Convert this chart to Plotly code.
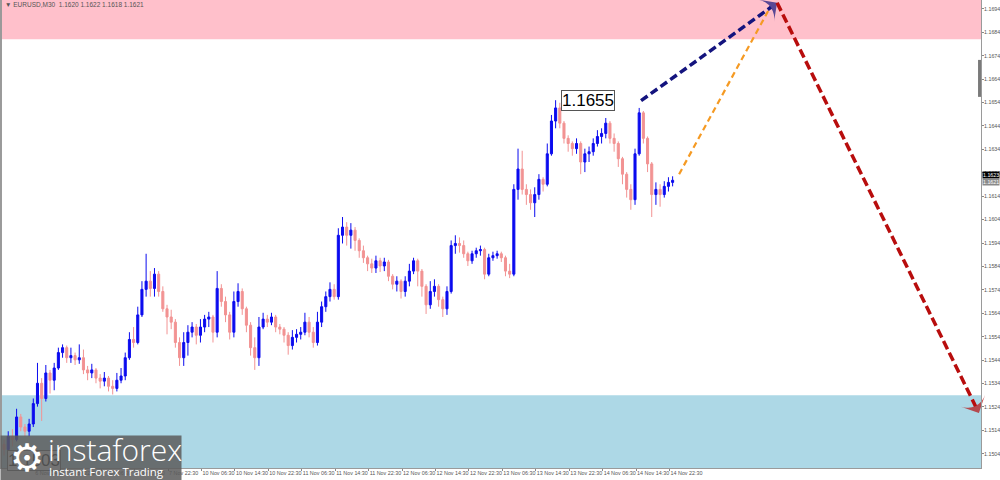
import numpy as np
import pandas as pd
import plotly.graph_objects as go

# ---------------- data (EURUSD; hourly bars) ----------------
session_ranges = [("2025-11-06 07:00", "2025-11-07 23:00"),
                  ("2025-11-10 00:00", "2025-11-14 23:00")]

first_open = 1.15080
closes = [
    1.15058, 1.15114, 1.15101, 1.15197, 1.15154, 1.15136, 1.15167, 1.15254, 1.15341, 1.15276,
    1.15385, 1.15354, 1.15406, 1.15472, 1.15493, 1.15450, 1.15459, 1.15441, 1.15450, 1.15398,
    1.15385, 1.15398, 1.15363, 1.15350, 1.15363, 1.15328, 1.15319, 1.15354, 1.15372, 1.15450,
    1.15528, 1.15515, 1.15633, 1.15742, 1.15777, 1.15746, 1.15807, 1.15733, 1.15659, 1.15624,
    1.15602, 1.15515, 1.15450, 1.15515, 1.15559, 1.15581, 1.15546, 1.15581, 1.15615, 1.15624,
    1.15559, 1.15746, 1.15690, 1.15633, 1.15559, 1.15690, 1.15733, 1.15659, 1.15589, 1.15493,
    1.15450, 1.15581, 1.15615, 1.15602, 1.15624, 1.15581, 1.15572, 1.15546, 1.15502, 1.15537,
    1.15550, 1.15559, 1.15602, 1.15559, 1.15515, 1.15602, 1.15668, 1.15711, 1.15742, 1.15711,
    1.15973, 1.16008, 1.15973, 1.15995, 1.15951, 1.15907, 1.15877, 1.15851, 1.15833, 1.15864,
    1.15842, 1.15859, 1.15798, 1.15764, 1.15777, 1.15733, 1.15777, 1.15820, 1.15864, 1.15820,
    1.15755, 1.15676, 1.15733, 1.15755, 1.15698, 1.15659, 1.15733, 1.15929, 1.15938, 1.15929,
    1.15894, 1.15864, 1.15894, 1.15907, 1.15912, 1.15807, 1.15877, 1.15886, 1.15894, 1.15877,
    1.15820, 1.15807, 1.16169, 1.16256, 1.16169, 1.16147, 1.16112, 1.16147, 1.16212, 1.16191,
    1.16321, 1.16461, 1.16517, 1.16452, 1.16387, 1.16365, 1.16343, 1.16365, 1.16286, 1.16321,
    1.16330, 1.16365, 1.16395, 1.16408, 1.16452, 1.16387, 1.16365, 1.16300, 1.16234, 1.16169,
    1.16125, 1.16321, 1.16496, 1.16387, 1.16278, 1.16147, 1.16169, 1.16147, 1.16182, 1.16199,
    1.16208]
highs = [
    1.15101, 1.15136, 1.15145, 1.15232, 1.15210, 1.15167, 1.15189, 1.15276, 1.15428, 1.15363,
    1.15419, 1.15398, 1.15428, 1.15493, 1.15507, 1.15502, 1.15493, 1.15472, 1.15507, 1.15485,
    1.15415, 1.15424, 1.15406, 1.15380, 1.15389, 1.15372, 1.15354, 1.15385, 1.15406, 1.15472,
    1.15559, 1.15581, 1.15668, 1.15777, 1.15894, 1.15820, 1.15833, 1.15820, 1.15755, 1.15676,
    1.15655, 1.15615, 1.15537, 1.15559, 1.15589, 1.15602, 1.15594, 1.15615, 1.15633, 1.15646,
    1.15633, 1.15820, 1.15764, 1.15711, 1.15646, 1.15733, 1.15768, 1.15746, 1.15668, 1.15602,
    1.15537, 1.15624, 1.15642, 1.15633, 1.15642, 1.15633, 1.15594, 1.15581, 1.15559, 1.15568,
    1.15572, 1.15581, 1.15642, 1.15624, 1.15581, 1.15646, 1.15690, 1.15733, 1.15772, 1.15764,
    1.16003, 1.16051, 1.16029, 1.16025, 1.16008, 1.15960, 1.15929, 1.15886, 1.15873, 1.15886,
    1.15877, 1.15877, 1.15868, 1.15807, 1.15798, 1.15785, 1.15798, 1.15851, 1.15877, 1.15873,
    1.15829, 1.15764, 1.15777, 1.15785, 1.15764, 1.15711, 1.15755, 1.15951, 1.15973, 1.15964,
    1.15951, 1.15903, 1.15907, 1.15920, 1.15929, 1.15920, 1.15894, 1.15903, 1.15907, 1.15903,
    1.15886, 1.15851, 1.16191, 1.16343, 1.16334, 1.16191, 1.16169, 1.16178, 1.16234, 1.16221,
    1.16365, 1.16487, 1.16550, 1.16539, 1.16461, 1.16400, 1.16374, 1.16387, 1.16374, 1.16343,
    1.16352, 1.16387, 1.16422, 1.16430, 1.16474, 1.16461, 1.16408, 1.16374, 1.16308, 1.16243,
    1.16191, 1.16343, 1.16517, 1.16504, 1.16395, 1.16286, 1.16199, 1.16191, 1.16204, 1.16221,
    1.16225]
lows = [
    1.15032, 1.15049, 1.15071, 1.15093, 1.15136, 1.15114, 1.15114, 1.15154, 1.15241, 1.15180,
    1.15263, 1.15297, 1.15311, 1.15398, 1.15450, 1.15428, 1.15428, 1.15419, 1.15424, 1.15380,
    1.15354, 1.15363, 1.15341, 1.15319, 1.15328, 1.15306, 1.15293, 1.15306, 1.15341, 1.15354,
    1.15441, 1.15493, 1.15507, 1.15624, 1.15711, 1.15711, 1.15711, 1.15711, 1.15646, 1.15550,
    1.15572, 1.15493, 1.15415, 1.15415, 1.15459, 1.15537, 1.15507, 1.15515, 1.15559, 1.15581,
    1.15515, 1.15537, 1.15668, 1.15602, 1.15528, 1.15537, 1.15668, 1.15633, 1.15559, 1.15459,
    1.15398, 1.15415, 1.15572, 1.15581, 1.15589, 1.15559, 1.15550, 1.15515, 1.15463, 1.15485,
    1.15515, 1.15528, 1.15546, 1.15537, 1.15493, 1.15502, 1.15581, 1.15646, 1.15690, 1.15698,
    1.15698, 1.15938, 1.15929, 1.15916, 1.15907, 1.15877, 1.15855, 1.15820, 1.15812, 1.15812,
    1.15816, 1.15820, 1.15777, 1.15742, 1.15733, 1.15703, 1.15711, 1.15755, 1.15807, 1.15755,
    1.15711, 1.15637, 1.15659, 1.15711, 1.15668, 1.15624, 1.15633, 1.15724, 1.15894, 1.15899,
    1.15877, 1.15842, 1.15851, 1.15877, 1.15886, 1.15785, 1.15798, 1.15864, 1.15873, 1.15859,
    1.15798, 1.15790, 1.15798, 1.16125, 1.16147, 1.16103, 1.16082, 1.16051, 1.16125, 1.16160,
    1.16182, 1.16313, 1.16430, 1.16430, 1.16365, 1.16330, 1.16313, 1.16321, 1.16234, 1.16243,
    1.16286, 1.16313, 1.16352, 1.16365, 1.16387, 1.16365, 1.16330, 1.16265, 1.16191, 1.16134,
    1.16082, 1.16103, 1.16313, 1.16365, 1.16243, 1.16051, 1.16103, 1.16095, 1.16134, 1.16160,
    1.16182]

# zones
resistance_zone = (1.1681, 1.1700)
support_zone = (1.1490, 1.1529)

# forecast path (x in bar-index units, y price)
navy_x, navy_y = [152.45, 185.0], [1.16548, 1.16966]
orange_x, orange_y = [161.55, 182.85], [1.16234, 1.16931]
red_x, red_y = [185.0, 233.3], [1.16966, 1.15214]

# axis ticks
y_ticks = [1.1504, 1.1514, 1.1524, 1.1534, 1.1544, 1.1554, 1.1564, 1.1574, 1.1584, 1.1594,
           1.1604, 1.1614, 1.1624, 1.1634, 1.1644, 1.1654, 1.1664, 1.1674, 1.1684, 1.1694]
x_tick_labels = ["6 Nov 14:30", "6 Nov 22:30", "7 Nov 06:30", "7 Nov 14:30", "7 Nov 22:30",
                 "10 Nov 06:30", "10 Nov 14:30", "10 Nov 22:30", "11 Nov 06:30", "11 Nov 14:30",
                 "11 Nov 22:30", "12 Nov 06:30", "12 Nov 14:30", "12 Nov 22:30", "13 Nov 06:30",
                 "13 Nov 14:30", "13 Nov 22:30", "14 Nov 06:30", "14 Nov 14:30", "14 Nov 22:30"]
title_text = "\u25BC EURUSD,M30  1.1620 1.1622 1.1618 1.1621"
ask_price = 1.1623
bid_price = 1.1621

# ---------------- build ----------------
bar_times = pd.DatetimeIndex([])
for a, b in session_ranges:
    bar_times = bar_times.append(pd.date_range(a, b, freq="h"))
n = len(bar_times)
assert n == len(closes) == len(highs) == len(lows)
x_idx = np.arange(n)
opens = [first_open] + closes[:-1]

time_to_idx = {t: i for i, t in enumerate(bar_times)}
tick_vals = []
for lab in x_tick_labels:
    t = pd.to_datetime(lab + " 2025", format="%d %b %H:%M %Y")
    tick_vals.append(time_to_idx[t.floor("h")] + 0.25)

fig = go.Figure()
fig.add_trace(go.Candlestick(
    x=x_idx, open=opens, high=highs, low=lows, close=closes,
    increasing=dict(line=dict(color="#0b0bef", width=1), fillcolor="#0b0bef"),
    decreasing=dict(line=dict(color="#f29393", width=1), fillcolor="#f29393"),
    whiskerwidth=0, hoverinfo="skip", showlegend=False))

def arrow_trace(xs, ys, color, width, dash, head):
    return go.Scatter(x=xs, y=ys, mode="lines+markers" if head else "lines",
                      line=dict(color=color, width=width, dash=dash),
                      marker=dict(symbol="arrow-wide", size=[0, head], angleref="previous",
                                  color=color, line=dict(width=0)) if head else None,
                      hoverinfo="skip", showlegend=False, cliponaxis=False)

fig.add_trace(arrow_trace(orange_x, orange_y, "#f59a23", 2.2, "6px,4px", 0))
fig.add_trace(arrow_trace(navy_x, navy_y, "#14147e", 3.5, "8px,4px", 19))
fig.add_trace(arrow_trace(red_x, red_y, "#b80d0d", 3.5, "9px,4px", 19))

fig.add_shape(type="rect", xref="paper", x0=0, x1=1, y0=resistance_zone[0], y1=resistance_zone[1],
              fillcolor="#ffc0cb", line=dict(width=0), layer="below")
fig.add_shape(type="rect", xref="paper", x0=0, x1=1, y0=support_zone[0], y1=support_zone[1],
              fillcolor="#add8e6", line=dict(width=0), layer="below")
fig.add_shape(type="line", xref="paper", yref="paper", x0=0.001, x1=0.001, y0=0, y1=1,
              line=dict(color="#9a9a9a", width=2))
fig.add_shape(type="line", xref="paper", yref="paper", x0=0.9985, x1=0.9985, y0=0.793, y1=0.872,
              line=dict(color="#7a7a7a", width=3))

hi_i = int(np.argmax(highs))
lo_i = int(np.argmin(lows))
ann = []
ann.append(dict(x=lo_i, y=lows[lo_i], text=f"{lows[lo_i]:.4f}", showarrow=False,
                xanchor="left", yanchor="middle", xshift=3, yshift=-5,
                font=dict(size=17, family="Liberation Sans, Arial", color="#000"),
                bgcolor="#fff", bordercolor="#555", borderwidth=1, borderpad=0))
ann.append(dict(x=hi_i, y=highs[hi_i], text=f"{highs[hi_i]:.4f}", showarrow=False,
                xanchor="left", yanchor="middle", xshift=5,
                font=dict(size=17, family="Liberation Sans, Arial", color="#000"),
                bgcolor="#fff", bordercolor="#555", borderwidth=1, borderpad=0))
# logo
ann.append(dict(xref="paper", yref="paper", x=0, y=0.0705, xanchor="left", yanchor="top",
                text=" ", showarrow=False, width=180, height=45, borderpad=0,
                bgcolor="rgba(92,92,92,0.86)"))
ann.append(dict(xref="paper", yref="paper", x=0.0275, y=0.022, xanchor="center", yanchor="middle",
                text="\u2699", showarrow=False,
                font=dict(size=38, family="DejaVu Sans", color="#ffffff")))
ann.append(dict(xref="paper", yref="paper", x=0.0470, y=0.040, xanchor="left", yanchor="middle",
                text="instaforex", showarrow=False,
                font=dict(size=30, family="Open Sans", color="#ffffff", weight=300)))
ann.append(dict(xref="paper", yref="paper", x=0.0480, y=-0.0075, xanchor="left", yanchor="middle",
                text="Instant Forex Trading", showarrow=False,
                font=dict(size=11.5, family="Open Sans", color="#ffffff")))
# header
ann.append(dict(xref="paper", yref="paper", x=0.003, y=0.99, xanchor="left", yanchor="middle",
                text=title_text, showarrow=False,
                font=dict(size=6.5, family="Liberation Sans, Arial", color="#555")))
# price labels on the right axis
ann.append(dict(xref="paper", x=1, y=ask_price, xanchor="left", yanchor="middle", xshift=1,
                text=f"{ask_price:.4f}", showarrow=False, bgcolor="#000", borderpad=0,
                font=dict(size=5.3, family="Liberation Sans, Arial", color="#fff")))
ann.append(dict(xref="paper", x=1, y=bid_price, xanchor="left", yanchor="middle", xshift=1, yshift=-2,
                text=f"{bid_price:.4f}", showarrow=False, bgcolor="#8a8a8a", borderpad=0,
                font=dict(size=5.3, family="Liberation Sans, Arial", color="#fff")))

fig.update_layout(
    width=1000, height=480,
    margin=dict(l=0, r=19, t=0, b=12),
    plot_bgcolor="#ffffff", paper_bgcolor="#ffffff",
    showlegend=False, annotations=ann,
    xaxis=dict(range=[-0.97, 233.8], rangeslider=dict(visible=False),
               tickvals=tick_vals, ticktext=x_tick_labels, tickangle=0,
               tickfont=dict(size=5.4, family="Liberation Sans, Arial", color="#555"),
               ticks="outside", ticklen=2, tickcolor="#888",
               ticklabelposition="outside right", ticklabelstandoff=0,
               showline=True, linecolor="#9a9a9a", linewidth=1,
               showgrid=False, zeroline=False, automargin=False, fixedrange=True),
    yaxis=dict(range=[1.14979, 1.16978], side="right",
               tickvals=y_ticks, tickformat=".4f",
               tickfont=dict(size=5.3, family="Liberation Sans, Arial", color="#555"),
               ticks="outside", ticklen=2, tickcolor="#888", ticklabelstandoff=-1,
               showline=True, linecolor="#9a9a9a", linewidth=1,
               showgrid=False, zeroline=False, automargin=False, fixedrange=True),
)

fig.write_html("out.html", config={"displayModeBar": False},
               post_script="document.body.style.margin='0px';document.body.style.overflow='hidden';")
